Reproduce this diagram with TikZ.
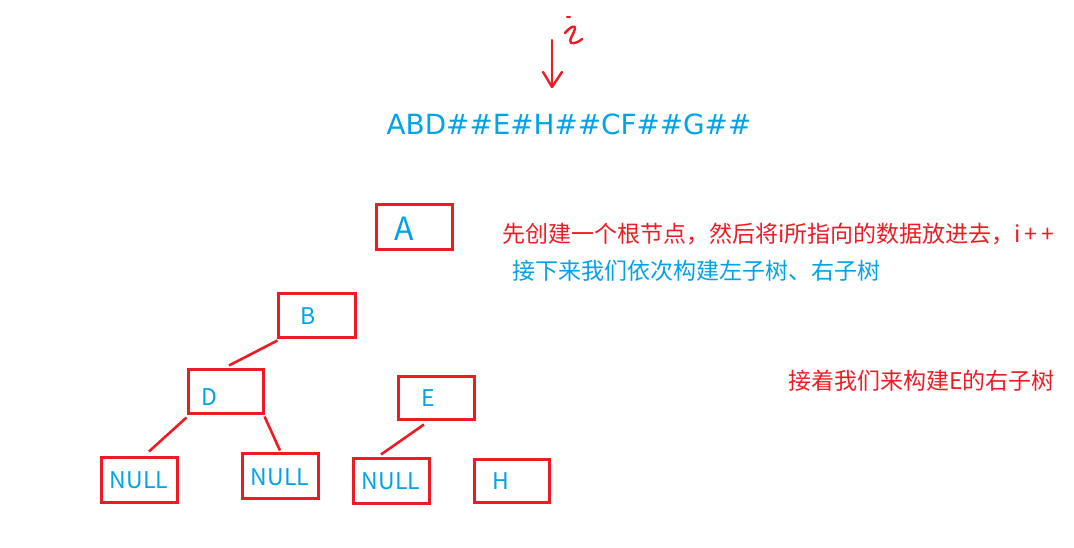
\documentclass[tikz,border=0pt]{standalone}
\usepackage{fontspec}
\setmainfont{Noto Sans CJK SC}
\newfontfamily\seqfont{DejaVu Sans}
\usetikzlibrary{calc}
\definecolor{pred}{HTML}{ED1C24}
\definecolor{pblue}{HTML}{00A2E8}
\tikzset{
  x=1pt, y=-1pt,
  box/.style={draw=pred, line width=3pt, minimum width=#1, inner sep=0pt},
  box/.default=76pt,
  link/.style={draw=pred, line width=2.6pt},
  txt/.style={inner sep=0pt, font=\fontsize{23}{27}\selectfont},
  note/.style={inner sep=0pt, font=\fontsize{23}{27}\selectfont},
}
\begin{document}
\begin{tikzpicture}
\useasboundingbox (0,0) rectangle (1074,548);
% pointer
\coordinate (ptop) at (552,40);
\coordinate (ptip) at (552,87);
\draw[pred, line width=2.4pt, line cap=round, line join=round] (ptop) -- (ptip);
\draw[pred, line width=2.4pt, line cap=round, line join=round] (543,72) -- (ptip) -- (562,72);
% handwritten i
\draw[pred, line width=2.2pt, line cap=round] (567,17) -- (570,17);
\draw[pred, line width=2.4pt, line cap=round, line join=round]
  (565,33) .. controls (570,27) and (576,24) .. (575,29) .. controls (574,34) and (568,40) .. (571,43) .. controls (575,44) and (580,41) .. (582,39);
% sequence
\node[pblue, inner sep=0pt, font=\seqfont\fontsize{27.8}{32}\selectfont] (seq) at (569,124) {ABD\#\#E\#H\#\#CF\#\#G\#\#};
% root
\node[box, minimum height=45pt] (A) at (414,227.5) {};
\node[pblue, inner sep=0pt, font=\fontsize{32}{36}\selectfont] (Atxt) at (404,229) {A};
% tree
\node[box=77pt, minimum height=44pt] (B) at (316.5,315) {};
\node[pblue, txt] (Btxt) at (308,316) {B};
\node[box=75pt, minimum height=44pt] (D) at (225.5,391) {};
\node[pblue, txt] (Dtxt) at (209,397) {D};
\node[box=76pt, minimum height=43pt] (E) at (436,397.5) {};
\node[pblue, txt] (Etxt) at (428,398) {E};
\node[box=76pt, minimum height=45pt] (N1) at (139,479.5) {};
\node[pblue, txt] (N1txt) at (139,480) {NULL};
\node[box=76pt, minimum height=45pt] (N2) at (280,475.5) {};
\node[pblue, txt] (N2txt) at (280,477) {NULL};
\node[box=76pt, minimum height=45pt] (N3) at (391,480.5) {};
\node[pblue, txt] (N3txt) at (391,481) {NULL};
\node[box=75pt, minimum height=43pt] (H) at (511.5,480.5) {};
\node[pblue, txt] (Htxt) at (501,481) {H};
% links
\draw[link] ([xshift=1pt,yshift=-2pt]B.south west) -- ($(B.south west)!0.93!(D.north)$);
\draw[link] ([yshift=-3pt]D.south west) -- ([xshift=10pt,yshift=4pt]N1.north);
\draw[link] ([yshift=-2pt]D.south east) -- ([yshift=1pt]N2.north);
\draw[link] ([xshift=-12pt,yshift=-4pt]E.south) -- ([xshift=-10pt,yshift=2pt]N3.north);
% notes
\node[pred, note, anchor=west] (note1) at (502,234) {先创建一个根节点，然后将i所指向的数据放进去，i\,+\,+};
\node[pblue, note, anchor=west] (note2) at (512,271) {接下来我们依次构建左子树、右子树};
\node[pred, note, anchor=west] (note3) at (788,381) {接着我们来构建E的右子树};
\end{tikzpicture}
\end{document}
